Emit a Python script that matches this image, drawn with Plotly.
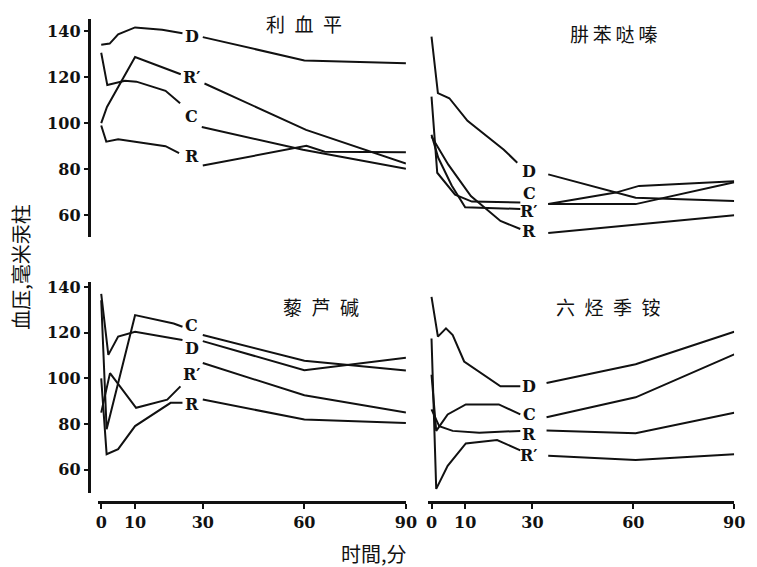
import plotly.graph_objects as go

W, H = 757, 567

# ---------------- data (time in minutes, blood pressure in mmHg) ----------------
# None marks the gap where the curve letter is printed
# 利血平 (top-left)
res_D_t = [0, 2.5, 5, 10, 18, 24, 27, 30, 60, 90]
res_D_v = [134, 134.5, 138.5, 141.5, 140.5, 139, None, 137.3, 127.2, 126]
res_Rp_t = [0, 1.7, 10, 23.5, 27, 30.5, 60.5, 90]
res_Rp_v = [100, 107, 128.7, 121.2, None, 117.2, 97.1, 82.5]
res_C_t = [0, 1.8, 7, 10.4, 19, 23.3, 27, 29.7, 59.6, 90]
res_C_v = [130.5, 116.5, 118.4, 118, 114, 108.6, None, 98.3, 88.5, 80.2]
res_R_t = [0, 1.5, 5, 19, 23, 27, 30, 60.6, 66, 90]
res_R_v = [99, 92, 93, 90, 87, None, 81.6, 90.2, 87.6, 87.4]

# 肼苯哒嗪 (top-right)
hyd_D_t = [0, 1.9, 5.3, 10.7, 21.5, 25.5, 29, 34.7, 60.7, 90]
hyd_D_v = [137.5, 113, 110.8, 101, 88.5, 82.8, None, 77.8, 67.7, 66.3]
hyd_C_t = [0, 1.7, 7, 12, 26.4, 29, 34.7, 54.8, 61.7, 90]
hyd_C_v = [111.5, 78.5, 69, 66, 65.6, None, 65, 69.9, 72.8, 74.8]
hyd_Rp_t = [0, 2, 6, 10, 26.4, 29, 34.7, 60.7, 90]
hyd_Rp_v = [95, 85, 73, 63.5, 62.8, None, 64.9, 64.9, 74.4]
hyd_R_t = [0, 5, 11.7, 20.5, 26.4, 29, 34.7, 90]
hyd_R_v = [94.2, 82, 68.4, 57.6, 54.1, None, 52.4, 60.1]

# 藜芦碱 (bottom-left)
ver_C_t = [0, 1.6, 10, 21.4, 24, 27, 30, 60, 90]
ver_C_v = [134.2, 77.7, 127.7, 124, 122.6, None, 119, 107.7, 103.5]
ver_D_t = [0, 2.1, 5, 10, 21.4, 24, 27, 30, 60, 90]
ver_D_v = [137, 110.3, 118.3, 120.4, 117.5, 116.8, None, 116.3, 103.6, 109]
ver_Rp_t = [0, 2.6, 10.3, 19.5, 23.4, 27, 30, 60, 90]
ver_Rp_v = [85, 102.3, 87.1, 90.7, 96.5, None, 106.7, 92.6, 85]
ver_R_t = [0, 1.6, 5, 10, 20.5, 24, 27, 30, 60, 90]
ver_R_v = [100, 66.8, 69, 79.1, 89.3, 89.3, None, 90.7, 82, 80.5]

# 六烃季铵 (bottom-right)
hex_D_t = [0, 1.9, 4.3, 6.3, 9.7, 20.5, 26.4, 29, 34.2, 60.7, 90]
hex_D_v = [135.7, 118.3, 121.9, 119, 107.4, 96.5, 96.5, None, 98, 106.2, 120.4]
hex_C_t = [0, 1.4, 4.8, 10.2, 20, 26.4, 29, 34.2, 60.7, 90]
hex_C_v = [101.6, 77, 84.2, 88.6, 88.6, 84.2, None, 83, 91.7, 110.5]
hex_R_t = [0, 2.3, 6.3, 14.2, 26.4, 29, 34.2, 60.7, 90]
hex_R_v = [86.4, 79, 77, 76.2, 77, None, 77.2, 76, 84.9]
hex_Rp_t = [0, 1.4, 4.8, 10.2, 19.5, 26.4, 29, 34.7, 60.7, 90]
hex_Rp_v = [117.5, 51.6, 61.7, 71.5, 73, 68.5, None, 66.1, 64.2, 66.8]

# curve letters: (panel, text, time, value)
curve_labels = [
    (1, "D", 26.7, 137.7), (1, "R′", 26.7, 119.8), (1, "C", 26.7, 103.1), (1, "R", 26.7, 85.7),
    (2, "D", 29, 79.2), (2, "C", 29, 69.6), (2, "R′", 29, 61.8), (2, "R", 29, 53),
    (3, "C", 26.7, 123.3), (3, "D", 26.7, 113.2), (3, "R′", 26.7, 101.6), (3, "R", 26.7, 88.6),
    (4, "D", 29, 96.5), (4, "C", 29, 84.2), (4, "R", 29, 75.5), (4, "R′", 29, 66.1),
]
panel_titles = ["利\u2002血\u2002平", "肼\u2009苯\u2009哒\u2009嗪", "藜\u2002芦\u2002碱", "六\u2002烃\u2002季\u2002铵"]
y_ticks = [60, 80, 100, 120, 140]
x_ticks = [0, 10, 30, 60, 90]
y_title = "血压,毫米汞柱"
x_title = "时間,分"

series = {
    1: [(res_D_t, res_D_v), (res_Rp_t, res_Rp_v), (res_C_t, res_C_v), (res_R_t, res_R_v)],
    2: [(hyd_D_t, hyd_D_v), (hyd_C_t, hyd_C_v), (hyd_Rp_t, hyd_Rp_v), (hyd_R_t, hyd_R_v)],
    3: [(ver_C_t, ver_C_v), (ver_D_t, ver_D_v), (ver_Rp_t, ver_Rp_v), (ver_R_t, ver_R_v)],
    4: [(hex_D_t, hex_D_v), (hex_C_t, hex_C_v), (hex_R_t, hex_R_v), (hex_Rp_t, hex_Rp_v)],
}

def px(x):
    return x / W

def py(y):
    return 1 - y / H

fig = go.Figure()
for p, lst in series.items():
    ax = "" if p == 1 else str(p)
    for t, v in lst:
        fig.add_trace(go.Scatter(x=t, y=v, mode="lines", xaxis="x" + ax, yaxis="y" + ax,
                                 line=dict(color="#111", width=2), connectgaps=False,
                                 showlegend=False, hoverinfo="skip"))

num_font = dict(family="DejaVu Serif", size=16, color="#111", weight="bold")
cjk_font = dict(family="Noto Sans CJK SC", size=19, color="#111")
axt_font = dict(family="Noto Sans CJK SC", size=20, color="#111")

left_dom = [px(97.5), px(411)]
right_dom = [px(433.6), px(745)]
top_dom = [py(235), py(15)]
bot_dom = [py(492), py(280)]
xr = [-1, 90]

yax_common = dict(showline=True, linecolor="#111", linewidth=2.5, ticks="outside", ticklen=5,
                  tickwidth=2, tickcolor="#111", tickvals=y_ticks, showgrid=False, zeroline=False,
                  tickfont=num_font, anchor="free", position=px(89))
xax_common = dict(showline=True, linecolor="#111", linewidth=2.5, ticks="outside", ticklen=5,
                  tickwidth=2, tickcolor="#111", tickvals=x_ticks, showgrid=False, zeroline=False,
                  tickfont=num_font, anchor="free", position=py(502), range=xr)
hidden = dict(visible=False, showgrid=False, zeroline=False)

fig.update_layout(
    width=W, height=H, margin=dict(l=0, r=0, t=0, b=0),
    paper_bgcolor="white", plot_bgcolor="rgba(0,0,0,0)",
    xaxis=dict(domain=left_dom, range=xr, anchor="y", **hidden),
    yaxis=dict(domain=top_dom, range=[50.5, 145.2], **yax_common),
    xaxis2=dict(domain=right_dom, range=xr, anchor="y2", **hidden),
    yaxis2=dict(domain=top_dom, range=[50.5, 145.2], anchor="x2", **hidden),
    xaxis3=dict(domain=left_dom, **xax_common),
    yaxis3=dict(domain=bot_dom, range=[50, 142.2], **yax_common),
    xaxis4=dict(domain=right_dom, **xax_common),
    yaxis4=dict(domain=bot_dom, range=[50, 142.2], anchor="x4", **hidden),
)

ann = []
for p, txt, t, v in curve_labels:
    ax = "" if p == 1 else str(p)
    ann.append(dict(x=t, y=v, xref="x" + ax, yref="y" + ax, text=txt, showarrow=False,
                    xanchor="center", yanchor="middle",
                    font=dict(family="DejaVu Serif", size=16, color="#111", weight="bold")))

title_pos = [(307, 20), (622, 30), (325, 305), (617, 305)]
for (x, y), txt in zip(title_pos, panel_titles):
    ann.append(dict(x=px(x), y=py(y), xref="paper", yref="paper", text=txt, showarrow=False,
                    xanchor="center", yanchor="middle", font=cjk_font))
ann.append(dict(x=px(18), y=py(265), xref="paper", yref="paper", text=y_title, showarrow=False,
                xanchor="center", yanchor="middle", textangle=-90, font=axt_font))
ann.append(dict(x=px(378), y=py(553), xref="paper", yref="paper", text=x_title, showarrow=False,
                xanchor="center", yanchor="middle", font=axt_font))
fig.update_layout(annotations=ann)

fig.write_html("out.html", config={"displayModeBar": False},
               post_script="document.body.style.margin='0';document.body.style.overflow='hidden';")
